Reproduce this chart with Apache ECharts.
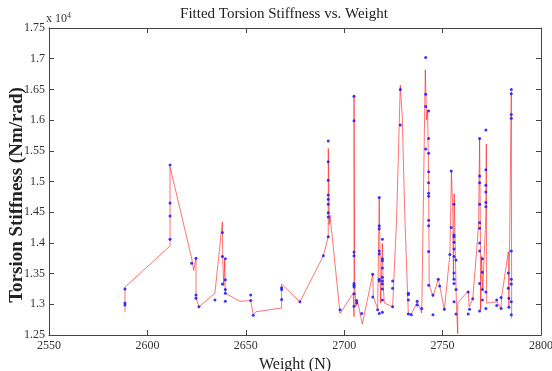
<!DOCTYPE html>
<html>
<head>
<meta charset="utf-8">
<script src="https://cdn.jsdelivr.net/npm/echarts@6/dist/echarts.min.js"></script>
<style>
  html, body { margin: 0; padding: 0; background: #fff; }
  #chart { width: 552px; height: 371px; }
</style>
</head>
<body>
<div id="chart"></div>
<script>
// axis ranges (y in units of 1e4 Nm/rad)
const xTicks = [2550, 2600, 2650, 2700, 2750, 2800];
const yTicks = [1.25, 1.3, 1.35, 1.4, 1.45, 1.5, 1.55, 1.6, 1.65, 1.7, 1.75];

// measured points: [weight, [stiffness values at that weight]]
const measured = [
  [2588.6, [1.325, 1.302, 1.299]],
  [2611.5, [1.527, 1.465, 1.444, 1.406]],
  [2622.5, [1.367]],
  [2624.7, [1.375, 1.315, 1.310]],
  [2626.2, [1.296]],
  [2634.3, [1.307]],
  [2638.1, [1.417, 1.378, 1.333]],
  [2639.6, [1.374, 1.340, 1.324, 1.318, 1.305]],
  [2652.5, [1.315, 1.306]],
  [2653.8, [1.282]],
  [2668.2, [1.327, 1.324, 1.308]],
  [2677.5, [1.304]],
  [2689.4, [1.379]],
  [2691.9, [1.566, 1.532, 1.502, 1.478, 1.471, 1.463, 1.449, 1.442, 1.410]],
  [2697.9, [1.291]],
  [2705.0, [1.639, 1.599, 1.385, 1.379, 1.334, 1.331, 1.328, 1.317, 1.297]],
  [2706.3, [1.302, 1.306]],
  [2708.9, [1.285]],
  [2714.5, [1.349, 1.312]],
  [2717.0, [1.291]],
  [2717.8, [1.474, 1.428, 1.423, 1.387, 1.382, 1.341, 1.338, 1.285]],
  [2719.4, [1.406, 1.374, 1.371, 1.359, 1.344, 1.338, 1.333, 1.325, 1.307, 1.287]],
  [2724.6, [1.338, 1.326, 1.296]],
  [2728.5, [1.650, 1.592]],
  [2732.6, [1.318, 1.316, 1.307, 1.284]],
  [2734.1, [1.283]],
  [2737.1, [1.305, 1.299]],
  [2739.4, [1.293]],
  [2741.4, [1.702, 1.642, 1.622, 1.553]],
  [2742.9, [1.615, 1.570, 1.546, 1.516, 1.498, 1.481, 1.476, 1.437, 1.428, 1.386, 1.331]],
  [2745.1, [1.315, 1.283]],
  [2747.8, [1.341]],
  [2748.5, [1.330]],
  [2750.9, [1.292]],
  [2753.7, [1.381]],
  [2754.4, [1.517, 1.425]],
  [2755.8, [1.463, 1.413, 1.410, 1.401, 1.390, 1.378, 1.351, 1.341, 1.334, 1.304]],
  [2756.8, [1.372, 1.324, 1.284]],
  [2763.0, [1.320, 1.284]],
  [2763.7, [1.292]],
  [2765.3, [1.309]],
  [2768.8, [1.570, 1.509, 1.498, 1.463, 1.433, 1.424, 1.400, 1.387, 1.334, 1.289]],
  [2770.2, [1.374, 1.352, 1.324, 1.307]],
  [2772.0, [1.584, 1.519, 1.494, 1.483, 1.466, 1.459, 1.320, 1.293]],
  [2777.5, [1.307, 1.298]],
  [2779.7, [1.293, 1.311]],
  [2783.4, [1.351, 1.326]],
  [2783.7, [1.310, 1.295]],
  [2784.9, [1.650, 1.643, 1.609, 1.603, 1.387, 1.341, 1.333, 1.304, 1.283]]
];

// fitted curve, in drawing order
const fitted = [
  [2588.6, 1.287], [2588.6, 1.328], [2611.5, 1.395], [2611.5, 1.524],
  [2622.7, 1.372], [2623.5, 1.355], [2624.7, 1.375], [2624.7, 1.310], [2626.2, 1.296],
  [2634.3, 1.318], [2638.1, 1.434], [2638.3, 1.372], [2638.8, 1.330], [2639.3, 1.372], [2639.6, 1.318],
  [2647.0, 1.305], [2652.5, 1.306], [2653.8, 1.283], [2655.5, 1.288], [2668.2, 1.294], [2668.2, 1.333],
  [2677.5, 1.304], [2689.4, 1.379], [2691.9, 1.410], [2691.9, 1.554], [2692.4, 1.430], [2692.8, 1.445],
  [2697.9, 1.285], [2704.6, 1.318], [2705.0, 1.280], [2705.0, 1.641], [2705.3, 1.330], [2706.0, 1.297], [2706.8, 1.305],
  [2709.2, 1.268], [2714.5, 1.349], [2714.8, 1.312], [2717.0, 1.293], [2717.8, 1.474], [2718.5, 1.302],
  [2719.4, 1.399], [2719.8, 1.330], [2720.4, 1.302], [2724.6, 1.296], [2726.6, 1.437], [2727.6, 1.551],
  [2728.5, 1.657], [2729.5, 1.605], [2730.8, 1.443], [2732.2, 1.318], [2732.6, 1.285], [2734.3, 1.285],
  [2737.1, 1.304], [2738.8, 1.291], [2739.4, 1.286], [2741.2, 1.682], [2741.9, 1.600], [2742.4, 1.616],
  [2742.9, 1.502], [2743.2, 1.334], [2745.1, 1.312], [2747.8, 1.341], [2748.6, 1.329], [2750.9, 1.291],
  [2753.7, 1.381], [2754.5, 1.516], [2755.2, 1.450], [2755.5, 1.340], [2755.9, 1.480], [2756.5, 1.380],
  [2757.0, 1.300], [2757.7, 1.252], [2757.7, 1.302], [2763.0, 1.322], [2763.5, 1.296], [2765.3, 1.308],
  [2767.3, 1.388], [2768.3, 1.432], [2768.8, 1.570], [2769.2, 1.420], [2769.3, 1.291], [2769.8, 1.378],
  [2770.4, 1.323], [2771.4, 1.399], [2772.0, 1.448], [2772.2, 1.561], [2772.4, 1.302], [2777.5, 1.304],
  [2779.7, 1.293], [2780.0, 1.312], [2783.4, 1.386], [2783.7, 1.296], [2784.9, 1.646], [2785.1, 1.277]
];

const chart = echarts.init(document.getElementById("chart"));

const points = [];
measured.forEach(([x, ys]) => ys.forEach((y) => points.push([x, y])));

const serif = "'Liberation Serif', 'DejaVu Serif', serif";
const fmt = (v) => String(parseFloat(v.toFixed(2)));

const boxAxis = {
  axisLine: { show: true, lineStyle: { color: "#444", width: 1 } },
  axisTick: { show: true, inside: true, length: 5, lineStyle: { color: "#444" } },
  splitLine: { show: false },
};

chart.setOption({
  animation: false,
  title: {
    text: "Fitted Torsion Stiffness vs. Weight",
    left: 279,
    textAlign: "center",
    top: 2,
    textStyle: { fontFamily: serif, fontSize: 15, fontWeight: "normal", color: "#222" },
  },
  grid: { left: 49, right: 11, top: 28, bottom: 36, outerBoundsMode: "none", containLabel: false },
  xAxis: [
    {
      type: "value", min: xTicks[0], max: xTicks[xTicks.length - 1], interval: 50,
      ...boxAxis,
      axisLabel: { fontFamily: serif, fontSize: 12, color: "#333", margin: 5, formatter: (v) => String(v) },
      name: "Weight (N)", nameLocation: "middle", nameGap: 17,
      nameTextStyle: { fontFamily: serif, fontSize: 16, color: "#222" },
    },
    {
      type: "value", position: "top", min: xTicks[0], max: xTicks[xTicks.length - 1], interval: 50,
      ...boxAxis, axisLabel: { show: false },
    },
  ],
  yAxis: [
    {
      type: "value", min: yTicks[0], max: yTicks[yTicks.length - 1], interval: 0.05,
      ...boxAxis,
      axisLabel: { fontFamily: serif, fontSize: 12, color: "#333", margin: 4, formatter: fmt },
    },
    {
      type: "value", position: "right", min: yTicks[0], max: yTicks[yTicks.length - 1], interval: 0.05,
      ...boxAxis, axisLabel: { show: false },
    },
  ],
  graphic: [
    {
      type: "text", left: 46, top: 12,
      style: {
        text: "x 10{s|4}",
        font: "12px " + serif,
        fill: "#333",
        rich: { s: { fontSize: 8, fontFamily: serif, verticalAlign: "top", padding: [0, 0, 6, 0], fill: "#333" } },
      },
    },
    {
      type: "text", x: 17, y: 195, rotation: Math.PI / 2,
      style: {
        text: "Torsion Stiffness (Nm/rad)",
        font: "bold 19px " + serif,
        fill: "#222",
        align: "center",
        verticalAlign: "middle",
      },
    },
  ],
  series: [
    {
      type: "line", data: fitted, showSymbol: false, symbol: "none",
      lineStyle: { color: "#ff0000", width: 1, opacity: 0.55 },
      z: 2,
    },
    {
      type: "scatter", data: points, symbol: "circle", symbolSize: 3,
      itemStyle: { color: "#2020ff", opacity: 0.9 },
      z: 3,
    },
  ],
});
</script>
</body>
</html>
